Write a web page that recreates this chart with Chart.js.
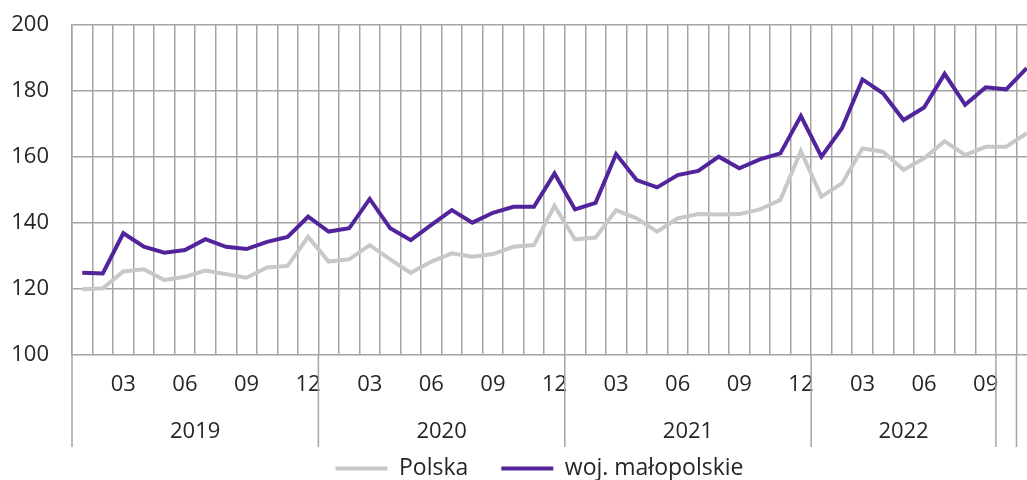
<!DOCTYPE html>
<html>
<head>
<meta charset="utf-8">
<script src="https://cdn.jsdelivr.net/npm/chart.js@4/dist/chart.umd.min.js"></script>
<style>
  html, body { margin: 0; padding: 0; background: #ffffff; overflow: hidden; }
  #wrap { position: relative; width: 1079px; height: 490px; }
</style>
</head>
<body>
<div id="wrap"><canvas id="c"></canvas></div>
<script>
// ---- data ----
const categories = [
  '01','02','03','04','05','06','07','08','09','10','11','12',
  '01','02','03','04','05','06','07','08','09','10','11','12',
  '01','02','03','04','05','06','07','08','09','10','11','12',
  '01','02','03','04','05','06','07','08','09','10','11'
];
const shownMonths = ['03','06','09','12'];
const yearNames = ['2019','2020','2021','2022','',''];
const yearSpans = [12, 12, 12, 9, 1, 1];
const yTicks = [100, 120, 140, 160, 180, 200];

const polska = [
  119.9,120.2,125.3,126.0,122.7,123.7,125.6,124.5,123.4,126.5,127.0,135.8,
  128.3,129.0,133.3,129.0,124.9,128.3,130.8,129.8,130.6,132.8,133.3,145.2,
  135.0,135.6,143.9,141.4,137.4,141.4,142.7,142.6,142.7,144.1,147.0,161.8,
  148.0,152.0,162.6,161.6,156.1,159.6,164.8,160.6,163.1,163.1,167.2
];
const malopolskie = [
  124.9,124.7,136.9,132.8,131.0,131.8,135.1,132.8,132.1,134.3,135.8,141.9,
  137.4,138.4,147.3,138.4,134.8,139.4,143.9,140.1,143.1,144.9,144.9,155.0,
  144.1,146.1,160.9,153.0,150.8,154.5,155.8,160.1,156.6,159.3,161.1,172.4,
  160.1,168.7,183.5,179.3,171.2,175.0,185.2,175.8,181.1,180.5,186.9
];
const seriesNames = ['Polska', 'woj. małopolskie'];

// ---- derived groups ----
const yearStarts = [];
const yearCenters = [];
let acc = 0;
yearSpans.forEach(s => { yearStarts.push(acc); yearCenters.push(acc + (s - 1) / 2); acc += s; });

const GRID = '#a4a4a4';
const TEXT = '#262626';
const FAMILY = "'Open Sans', sans-serif";
const AXIS_FONT = { family: FAMILY, size: 22 };
const LEGEND_FONT = { family: FAMILY, size: 23 };

const groups = {
  id: 'groups',
  afterDraw(chart) {
    const xs = chart.scales.x;
    const ctx = chart.ctx;
    const bottom = chart.chartArea.bottom;
    ctx.save();
    ctx.strokeStyle = GRID;
    ctx.lineWidth = 1.5;
    yearStarts.forEach(s => {
      const px = xs.getPixelForValue(s - 0.5);
      ctx.beginPath();
      ctx.moveTo(px, bottom);
      ctx.lineTo(px, bottom + 92);
      ctx.stroke();
    });
    ctx.fillStyle = TEXT;
    ctx.font = AXIS_FONT.size + 'px ' + FAMILY;
    ctx.textAlign = 'center';
    ctx.textBaseline = 'middle';
    yearCenters.forEach((c, k) => {
      if (yearNames[k]) ctx.fillText(yearNames[k], xs.getPixelForValue(c), bottom + 77);
    });
    ctx.restore();
  }
};

new Chart(document.getElementById('c'), {
  type: 'line',
  data: {
    labels: categories,
    datasets: [
      { label: seriesNames[0], data: polska, borderColor: '#c8c8c8', backgroundColor: '#c8c8c8',
        borderWidth: 4, pointRadius: 0, tension: 0 },
      { label: seriesNames[1], data: malopolskie, borderColor: '#52249c', backgroundColor: '#52249c',
        borderWidth: 4, pointRadius: 0, tension: 0 }
    ]
  },
  options: {
    responsive: true,
    maintainAspectRatio: false,
    animation: false,
    layout: { padding: { left: 0, right: 0, top: 25, bottom: 0 } },
    plugins: {
      tooltip: { enabled: false },
      legend: {
        position: 'bottom',
        align: 'center',
        labels: {
          usePointStyle: true,
          pointStyle: 'line',
          pointStyleWidth: 52,
          padding: 33,
          color: TEXT,
          font: LEGEND_FONT
        }
      }
    },
    scales: {
      x: {
        type: 'category',
        offset: true,
        grid: { display: true, offset: true, color: GRID, lineWidth: 1.5, drawTicks: false },
        border: { display: false },
        ticks: {
          autoSkip: false, maxRotation: 0, padding: 17, color: TEXT, font: AXIS_FONT,
          callback: function (v, i) { const m = categories[i]; return shownMonths.includes(m) ? m : ''; }
        },
        afterFit: s => { s.height = 69; }
      },
      y: {
        min: 100,
        max: 200,
        afterBuildTicks: s => { s.ticks = yTicks.map(v => ({ value: v })); },
        grid: { color: GRID, lineWidth: 1.5, drawTicks: true, tickLength: 23, tickColor: 'rgba(0,0,0,0)' },
        border: { display: true, color: GRID, width: 1.5 },
        ticks: { padding: 0, color: TEXT, font: AXIS_FONT },
        afterFit: s => { s.width = 72; }
      },
      yRight: {
        type: 'linear',
        position: 'right',
        display: true,
        grid: { display: false, drawTicks: false },
        border: { display: false },
        ticks: { display: false },
        afterFit: s => { s.width = 42; }
      }
    }
  },
  plugins: [groups]
});
</script>
</body>
</html>
